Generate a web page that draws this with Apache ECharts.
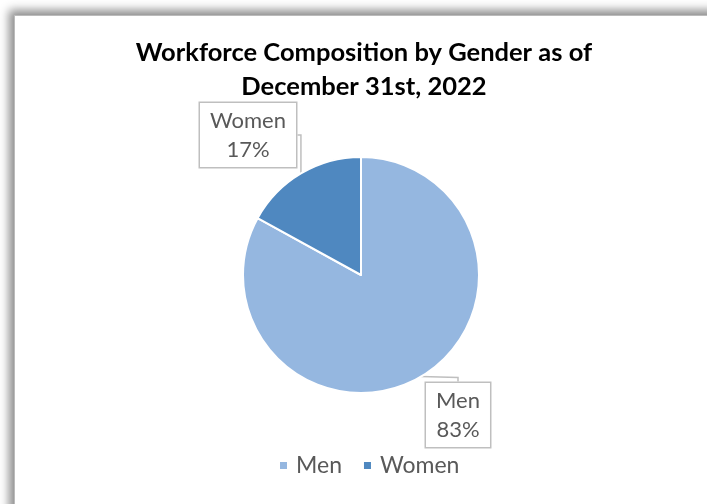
<!DOCTYPE html>
<html>
<head>
<meta charset="utf-8">
<script src="https://cdn.jsdelivr.net/npm/echarts@6/dist/echarts.min.js"></script>
<style>
html,body{margin:0;padding:0;width:707px;height:504px;overflow:hidden;background:#fff;}
#frame{position:absolute;left:14px;top:15px;width:760px;height:560px;background:#fff;box-shadow:-5px -5px 9px rgba(0,0,0,0.45);border-left:1px solid #bbb;border-top:1px solid #bbb;}
#chart{position:absolute;left:0;top:0;width:707px;height:504px;}
</style>
</head>
<body>
<div id="frame"></div>
<div id="chart"></div>
<script>
var titleText = 'Workforce Composition by Gender as of\nDecember 31st, 2022';
var categories = ['Men', 'Women'];
var values = [83, 17];
var colors = ['#95B7E0', '#4F88C0'];

var chart = echarts.init(document.getElementById('chart'), null, {renderer: 'canvas'});
var total = values.reduce(function(a, b){ return a + b; }, 0);
var data = categories.map(function(c, i){
  return {name: c, value: values[i], itemStyle: {color: colors[i]}};
});
var labelPos = [
  {x: 458, y: 415},
  {x: 248, y: 135}
];
chart.setOption({
  animation: false,
  backgroundColor: 'transparent',
  title: {
    text: titleText,
    left: 359, top: 31, textAlign: 'center',
    textStyle: {fontFamily: 'Lato', fontWeight: 'bold', fontSize: 25.5, color: '#000', lineHeight: 34}
  },
  legend: {
    data: categories,
    bottom: 22, left: 273,
    itemWidth: 9, itemHeight: 9, itemGap: 20,
    icon: 'rect',
    textStyle: {fontFamily: 'Lato', fontSize: 23, color: '#595959', padding: [0, 0, 0, 3]}
  },
  series: [{
    type: 'pie',
    center: [361, 275],
    radius: 118,
    startAngle: 90,
    clockwise: true,
    data: data,
    itemStyle: {borderColor: '#fff', borderWidth: 2},
    label: {
      show: true,
      position: 'outside',
      formatter: function(p){ return p.name + '\n' + Math.round(p.value / total * 100) + '%'; },
      fontFamily: 'Lato', fontSize: 22, color: '#595959', lineHeight: 29,
      backgroundColor: '#fff', borderColor: '#BFBFBF', borderWidth: 1.5,
      padding: [4, 10, 2, 10], align: 'center'
    },
    labelLine: {show: true, length: 4, length2: 4, lineStyle: {color: '#BFBFBF', width: 1.5}},
    labelLayout: function(p){
      var pos = labelPos[p.dataIndex];
      return {x: pos.x, y: pos.y, align: 'center', verticalAlign: 'middle'};
    },
    emphasis: {disabled: true}
  }]
});
</script>
</body>
</html>
